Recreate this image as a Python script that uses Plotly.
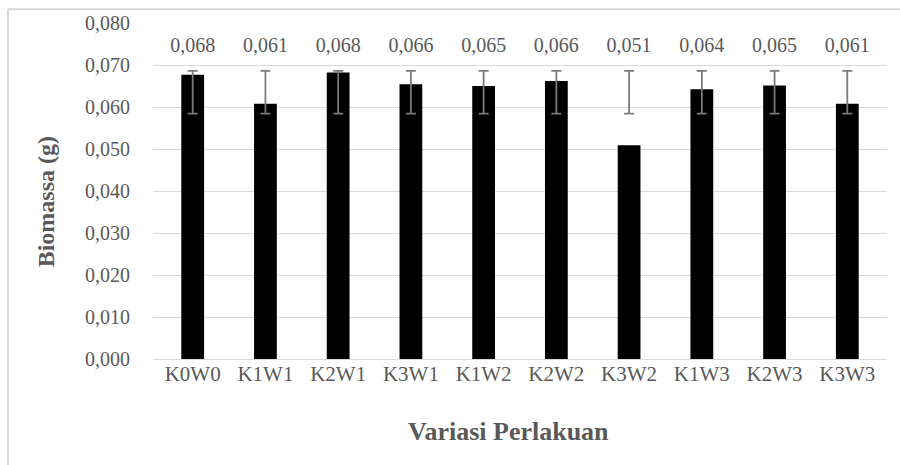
import plotly.graph_objects as go

categories = ["K0W0", "K1W1", "K2W1", "K3W1", "K1W2", "K2W2", "K3W2", "K1W3", "K2W3", "K3W3"]
biomassa = [0.0677, 0.0608, 0.0682, 0.0654, 0.0650, 0.0662, 0.0509, 0.0642, 0.0651, 0.0608]
label_text = ["0,068", "0,061", "0,068", "0,066", "0,065", "0,066", "0,051", "0,064", "0,065", "0,061"]
err_low = [0.0584] * 10
err_high = [0.0686] * 10
y_ticks = [0.0, 0.01, 0.02, 0.03, 0.04, 0.05, 0.06, 0.07, 0.08]

FONT = "Liberation Serif, DejaVu Serif, serif"
GRAY = "#595959"
LABEL_LEVEL = 0.0742

W, H = 900, 465
L, R, T, B = 153, 13, 18, 106
pw, ph = W - L - R, H - T - B

fig = go.Figure()
fig.add_trace(go.Bar(x=categories, y=biomassa, marker=dict(color="black", line=dict(width=0)),
                     hoverinfo="skip", showlegend=False))

mid = [(lo + hi) / 2 for lo, hi in zip(err_low, err_high)]
half = [(hi - lo) / 2 for lo, hi in zip(err_low, err_high)]
fig.add_trace(go.Scatter(x=categories, y=mid, mode="markers", marker=dict(size=0.1, opacity=0),
                         error_y=dict(type="data", array=half, visible=True, color="#7a7a7a",
                                      thickness=1.8, width=5),
                         showlegend=False, hoverinfo="skip"))

fig.add_trace(go.Scatter(x=categories, y=[LABEL_LEVEL] * len(categories), mode="text",
                         text=label_text, textposition="middle center",
                         textfont=dict(family=FONT, size=20, color=GRAY),
                         showlegend=False, hoverinfo="skip"))

fig.update_layout(
    width=W, height=H,
    margin=dict(l=L, r=R, t=T, b=B),
    paper_bgcolor="white", plot_bgcolor="white",
    separators=",.",
    bargap=0.687,
    font=dict(family=FONT, color=GRAY),
    xaxis=dict(showgrid=False, showline=False, ticks="", tickfont=dict(family=FONT, size=21, color=GRAY),
               fixedrange=True),
    yaxis=dict(range=[0, 0.08], tickvals=y_ticks, tickformat=".3f", showgrid=True, gridcolor="#d9d9d9",
               gridwidth=1, zeroline=True, zerolinecolor="#d9d9d9", zerolinewidth=1, showline=False,
               ticks="", ticklabelstandoff=22, tickfont=dict(family=FONT, size=20, color=GRAY)),
    annotations=[
        dict(text="<b>Variasi Perlakuan</b>", xref="paper", yref="paper",
             x=(508 - L) / pw, y=(H - B - 433) / ph, xanchor="center", yanchor="middle",
             showarrow=False, font=dict(family=FONT, size=26, color=GRAY)),
        dict(text="<b>Biomassa (g)</b>", xref="paper", yref="paper",
             x=(46 - L) / pw, y=(H - B - 200) / ph, xanchor="center", yanchor="middle",
             textangle=-90, showarrow=False, font=dict(family=FONT, size=24, color=GRAY)),
    ],
    shapes=[
        dict(type="line", xref="paper", yref="paper", x0=(8 - L) / pw, x1=2,
             y0=(H - B - 4) / ph, y1=(H - B - 4) / ph, line=dict(color="#d9d9d9", width=2)),
        dict(type="line", xref="paper", yref="paper", x0=(8 - L) / pw, x1=(8 - L) / pw,
             y0=-2, y1=(H - B - 4) / ph, line=dict(color="#d9d9d9", width=2)),
    ],
)

fig.write_html("out.html", config={"displayModeBar": False},
               post_script="document.body.style.margin='0';")
